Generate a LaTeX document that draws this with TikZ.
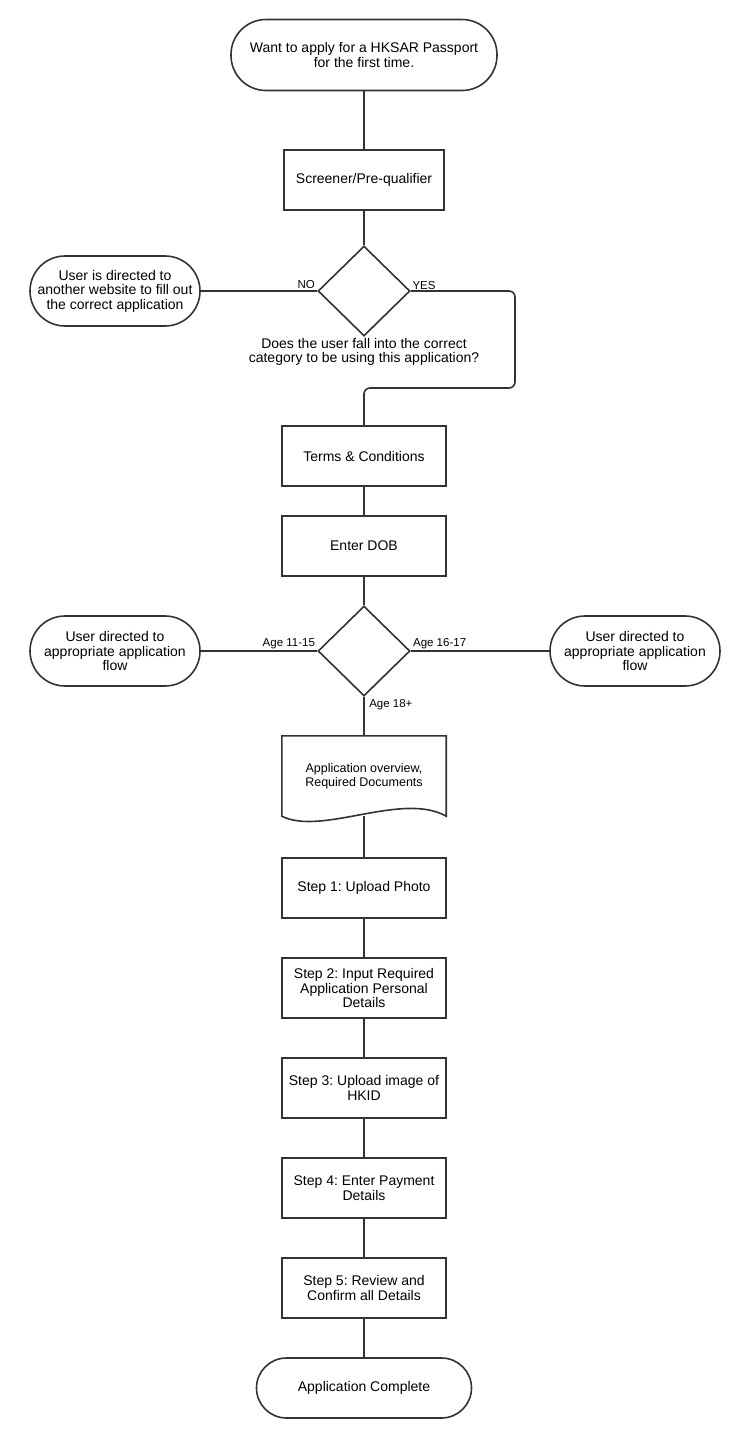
\documentclass[tikz,border=0pt]{standalone}
\usepackage{fontspec}
\setmainfont{Liberation Sans}
\frenchspacing
\usetikzlibrary{positioning,shapes.geometric,calc}
\definecolor{linegray}{HTML}{333333}

\begin{document}
\begin{tikzpicture}[
    x=1pt, y=-1pt,
    font=\fontsize{14}{14.5}\selectfont,
    box/.style={rectangle, draw=linegray, line width=1.6pt, minimum width=164pt, minimum height=60pt, align=center},
    term/.style={rectangle, draw=linegray, line width=1.6pt, rounded corners=35pt, minimum width=170pt, minimum height=70pt, align=center},
    decision/.style={diamond, draw=linegray, line width=1.6pt, minimum width=92pt, minimum height=90pt, inner sep=0pt},
    line/.style={draw=linegray, line width=1.6pt},
    lbl/.style={font=\fontsize{11.5}{13}\selectfont, inner sep=1.5pt}
]
    \useasboundingbox[fill=white] (0,0) rectangle (739,1438);

    % Start
    \node[term, minimum width=266pt, minimum height=71pt] (start) at (364,55) {Want to apply for a HKSAR Passport\\for the first time.};

    % Screener
    \node[box, minimum width=160pt, below of=start, node distance=125pt] (screener) {Screener/Pre-qualifier};

    % Category check
    \node[decision, below of=screener, node distance=111pt] (check) {};
    \node[below=0pt of check, inner sep=1pt, align=center] (question) {Does the user fall into the correct\\category to be using this application?};
    \node[term, left of=check, node distance=249pt] (redirect) {User is directed to\\another website to fill out\\the correct application};

    % Terms and DOB
    \node[box, below of=check, node distance=165pt] (terms) {Terms \& Conditions};
    \node[box, below of=terms, node distance=90pt] (dob) {Enter DOB};

    % Age check
    \node[decision, below of=dob, node distance=105pt] (age) {};
    \node[term, left of=age, node distance=249pt] (young) {User directed to\\appropriate application\\flow};
    \node[term, right of=age, node distance=271pt] (teen) {User directed to\\appropriate application\\flow};

    % Overview document
    \node[rectangle, minimum width=164pt, minimum height=80pt, align=center, font=\fontsize{12.5}{14}\selectfont, below of=age, node distance=125pt] (overview) {Application overview,\\Required Documents};
    \draw[line] (overview.south west) -- (overview.north west) -- (overview.north east) -- (overview.south east)
        .. controls ($(overview.south east)+(-44,-25)$) and ($(overview.south west)+(40,20)$) .. (overview.south west) -- cycle;

    % Steps
    \node[box, below of=overview, node distance=112pt] (step1) {Step 1: Upload Photo};
    \node[box, below of=step1, node distance=100pt] (step2) {Step 2: Input Required\\Application Personal\\Details};
    \node[box, below of=step2, node distance=100pt] (step3) {Step 3: Upload image of\\HKID};
    \node[box, below of=step3, node distance=100pt] (step4) {Step 4: Enter Payment\\Details};
    \node[box, below of=step4, node distance=100pt] (step5) {Step 5: Review and\\Confirm all Details};

    % End
    \node[term, minimum width=215pt, minimum height=60pt, rounded corners=30pt, below of=step5, node distance=100pt] (done) {Application Complete};

    % Connectors
    \draw[line] (start) -- (screener);
    \draw[line] (screener) -- (check);
    \draw[line] (check.west) -- node[lbl, pos=0, anchor=south east] {NO} (redirect.east);
    \coordinate (yesbend) at (515,388);
    \draw[line, rounded corners=6pt] (check.east) -| (yesbend) -| (terms.north);
    \node[lbl, anchor=south west] at (check.east) {YES};
    \draw[line] (terms) -- (dob);
    \draw[line] (dob) -- (age);
    \draw[line] (age.west) -- node[lbl, pos=0, anchor=south east] {Age 11-15} (young.east);
    \draw[line] (age.east) -- node[lbl, pos=0, anchor=south west] {Age 16-17} (teen.west);
    \draw[line] (age.south) -- node[lbl, pos=0, anchor=north west, xshift=3pt] {Age 18+} (overview.north);
    \draw[line] (overview.south) -- (step1);
    \draw[line] (step1) -- (step2);
    \draw[line] (step2) -- (step3);
    \draw[line] (step3) -- (step4);
    \draw[line] (step4) -- (step5);
    \draw[line] (step5) -- (done);

\end{tikzpicture}
\end{document}
